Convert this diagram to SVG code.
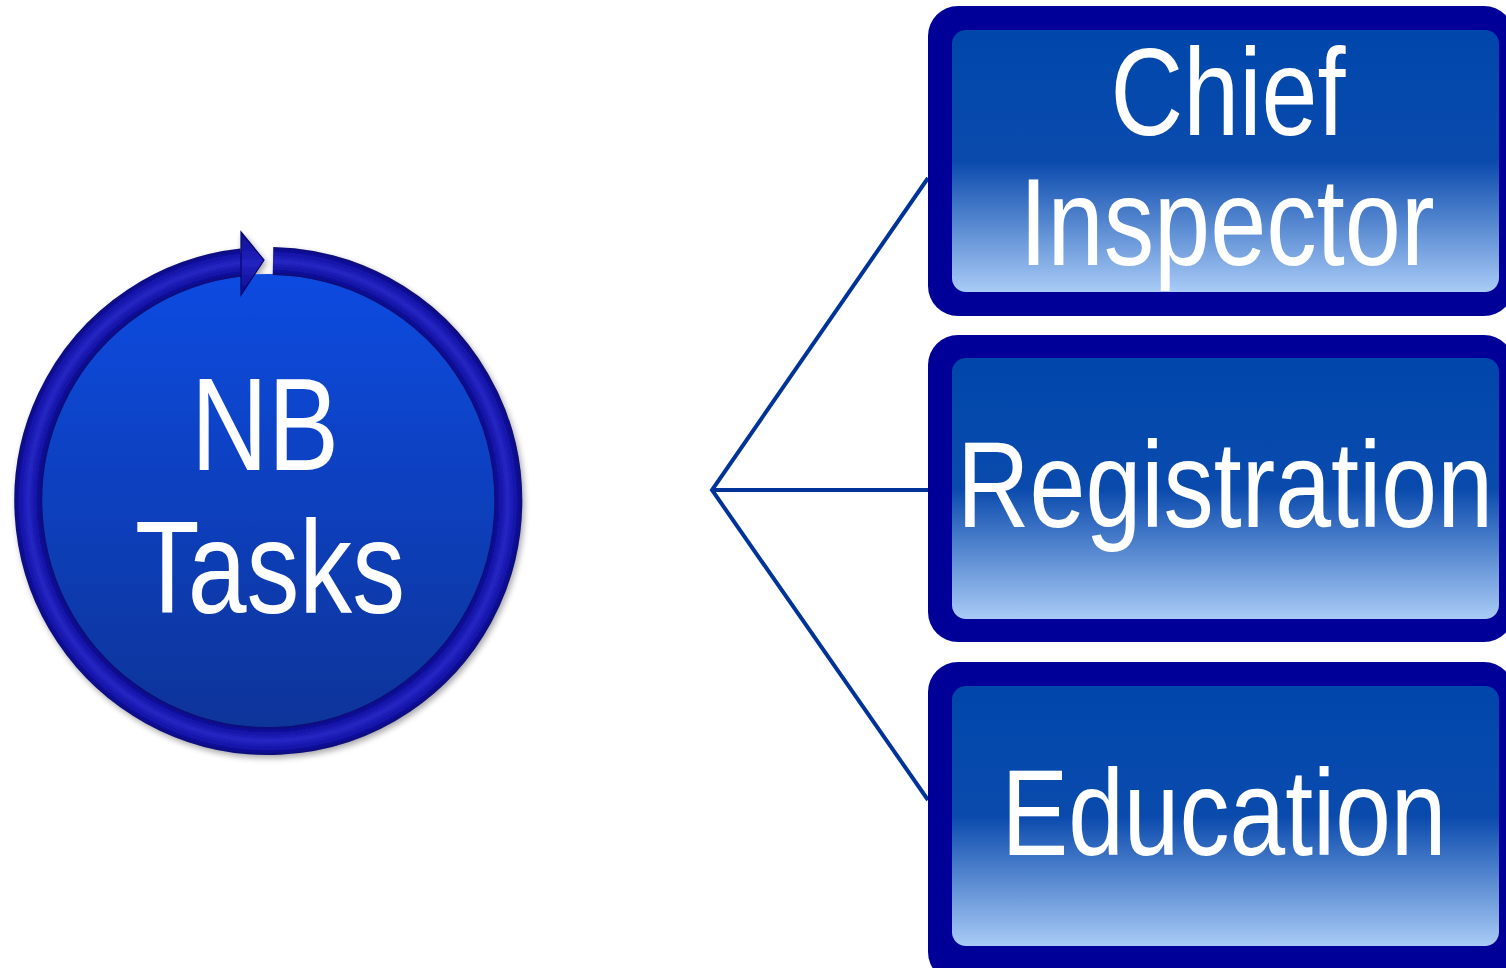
<svg xmlns="http://www.w3.org/2000/svg" width="1506" height="968" viewBox="0 0 1506 968">
<defs>
<linearGradient id="boxg" x1="0" y1="0" x2="0" y2="1">
<stop offset="0" stop-color="#0047ab"/>
<stop offset="0.5" stop-color="#0a4aad"/>
<stop offset="1" stop-color="#a9cbf6"/>
</linearGradient>
<linearGradient id="circg" x1="0" y1="0" x2="0" y2="1">
<stop offset="0" stop-color="#0a4be0"/>
<stop offset="1" stop-color="#0a3499"/>
</linearGradient>
<radialGradient id="ringg" gradientUnits="userSpaceOnUse" cx="268" cy="501" r="255">
<stop offset="0.88" stop-color="#06066a"/>
<stop offset="0.905" stop-color="#1010a0"/>
<stop offset="0.94" stop-color="#2626c4"/>
<stop offset="0.975" stop-color="#1212a6"/>
<stop offset="1" stop-color="#07076e"/>
</radialGradient>
<linearGradient id="headg" x1="0" y1="0" x2="0" y2="1">
<stop offset="0" stop-color="#0c0c90"/>
<stop offset="0.5" stop-color="#2222c0"/>
<stop offset="1" stop-color="#0a0a88"/>
</linearGradient>
<filter id="sh" x="-10%" y="-10%" width="120%" height="120%">
<feGaussianBlur in="SourceAlpha" stdDeviation="3"/>
<feOffset dx="2" dy="3"/>
<feComponentTransfer><feFuncA type="linear" slope="0.35"/></feComponentTransfer>
<feMerge><feMergeNode/><feMergeNode in="SourceGraphic"/></feMerge>
</filter>
</defs>
<style>
.outer{fill:#000099}
.inner{fill:url(#boxg)}
.t{font-family:"Liberation Sans",Arial,sans-serif;fill:#ffffff;text-anchor:middle}
.conn{stroke:#003399;stroke-width:4;fill:none}
</style>
<g id="connectors">
<polyline class="conn" points="928,178 712,490 928,800"/>
<line class="conn" x1="712" y1="490" x2="928" y2="490"/>
</g>
<g id="nb-tasks" filter="url(#sh)">
<circle cx="268" cy="501" r="227" fill="url(#circg)"/>
<path d="M 273,261 A 240 240 0 1 1 242,262.4" fill="none" stroke="url(#ringg)" stroke-width="28"/>
<polygon points="241,232 264,260 241,295" fill="url(#headg)" stroke="#06066e" stroke-width="1.2"/>
<text class="t" font-size="131" x="265" y="470" textLength="148" lengthAdjust="spacingAndGlyphs">NB</text>
<text class="t" font-size="131" x="270" y="613" textLength="270" lengthAdjust="spacingAndGlyphs">Tasks</text>
</g>
<g id="chief-inspector">
<rect class="outer" x="928" y="6" width="586" height="310" rx="30"/>
<rect class="inner" x="952" y="30" width="547" height="262" rx="14"/>
<text class="t" font-size="124" x="1228" y="135" textLength="235" lengthAdjust="spacingAndGlyphs">Chief</text>
<text class="t" font-size="124" x="1227" y="265" textLength="415" lengthAdjust="spacingAndGlyphs">Inspector</text>
</g>
<g id="registration">
<rect class="outer" x="928" y="335" width="586" height="307" rx="30"/>
<rect class="inner" x="952" y="358" width="547" height="261" rx="14"/>
<text class="t" font-size="122" x="1225" y="527" textLength="536" lengthAdjust="spacingAndGlyphs">Registration</text>
</g>
<g id="education">
<rect class="outer" x="928" y="662" width="586" height="320" rx="30"/>
<rect class="inner" x="952" y="686" width="547" height="260" rx="14"/>
<text class="t" font-size="122" x="1224" y="855" textLength="445" lengthAdjust="spacingAndGlyphs">Education</text>
</g>
</svg>
